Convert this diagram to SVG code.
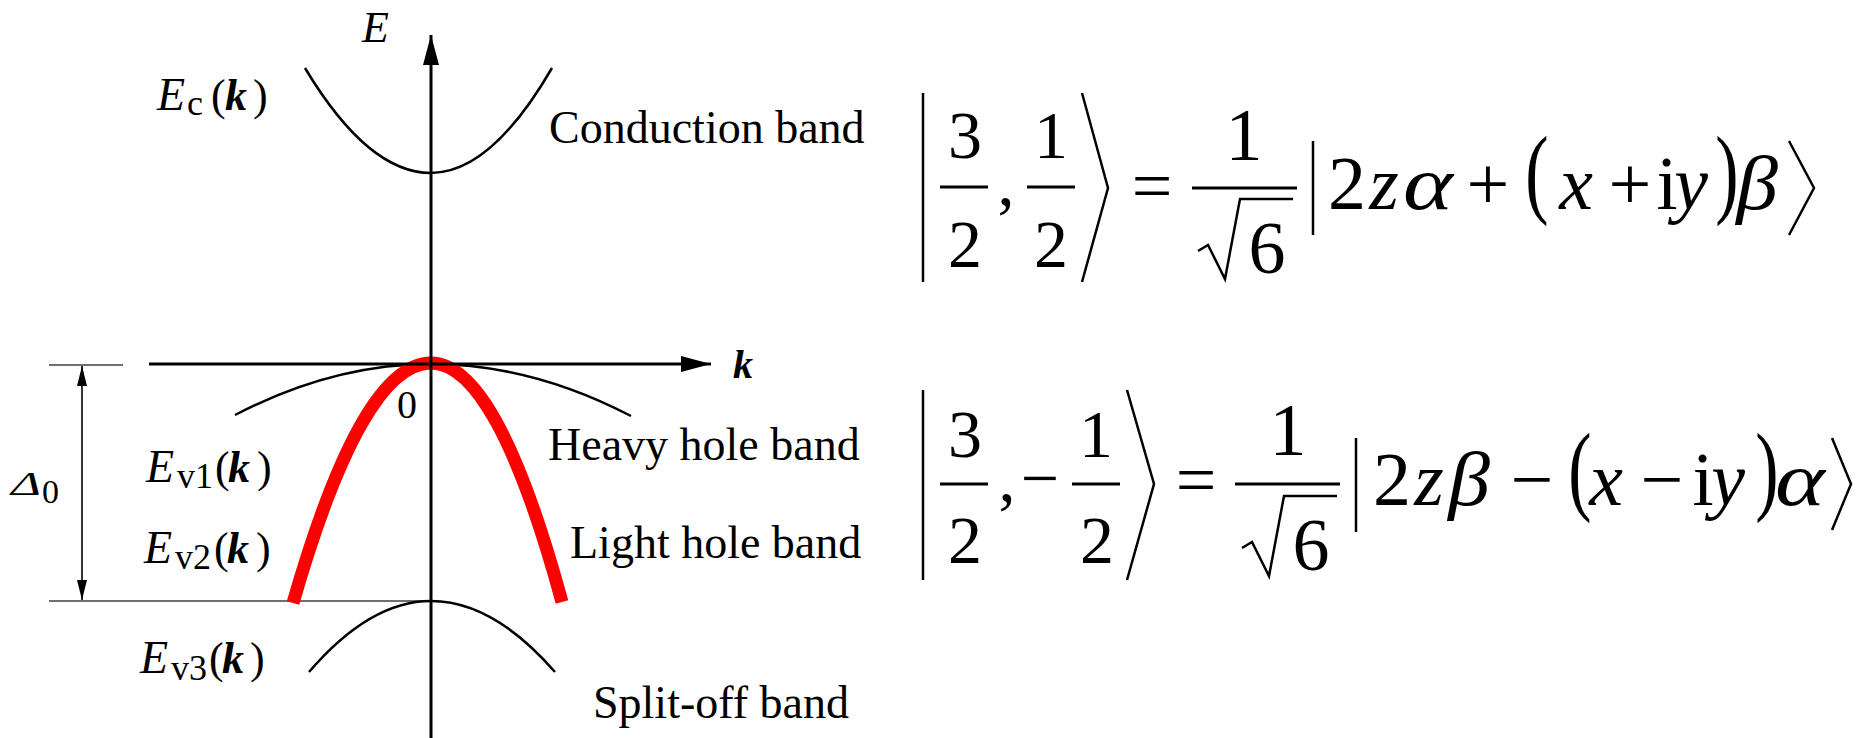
<svg xmlns="http://www.w3.org/2000/svg" width="1866" height="738" viewBox="0 0 1866 738">
<defs>
<style>
.s{font-family:"Liberation Serif","Times New Roman",serif;fill:#000}
.it{font-style:italic}
.bi{font-style:italic;font-weight:bold}
.lbl{font-size:46px}
.m{text-anchor:middle}
.band{fill:none;stroke:#000;stroke-width:2.5}
.red{fill:none;stroke:#f00;stroke-width:13;stroke-linecap:butt}
.axis{stroke:#000;stroke-width:3;fill:none}
.guide{stroke:#707070;stroke-width:2;fill:none}
.eq{font-size:76px}
.fr{font-size:68px}
.frb{font-size:74px}
.par{font-size:100px}
.bar{stroke:#000;stroke-width:3}
.brk{fill:none;stroke:#000;stroke-width:2.5}
</style>
<marker id="ah" markerUnits="userSpaceOnUse" markerWidth="30" markerHeight="16" viewBox="0 0 30 16" refX="30" refY="8" orient="auto">
<path d="M0,0 L30,8 L0,16 z" fill="#000"/>
</marker>
<marker id="dh" markerUnits="userSpaceOnUse" markerWidth="20" markerHeight="10" viewBox="0 0 20 10" refX="20" refY="5" orient="auto-start-reverse">
<path d="M0,0 L20,5 L0,10 z" fill="#000"/>
</marker>
</defs>
<rect width="1866" height="738" fill="#fff"/>

<g id="guides">
<line class="guide" x1="49" y1="365" x2="123" y2="365"/>
<line class="guide" x1="49" y1="601" x2="431" y2="601"/>
</g>

<g id="bands">
<path id="conduction-band" class="band" d="M305,68 Q368,173 431,173 Q491,173 552,68"/>
<path id="heavy-hole-band" class="band" d="M235,415 Q333,364 431,364 Q531,364 631,416"/>
<path id="split-off-band" class="band" d="M309,672 Q370,601 431,601 Q493,601 555,672"/>
<path id="light-hole-band" class="red" d="M293,603 Q362,363 431,363 Q497,363 562,602"/>
</g>

<g id="connectors">
<line class="axis" x1="149" y1="364" x2="711" y2="364" marker-end="url(#ah)"/>
<line class="axis" x1="431" y1="738" x2="431" y2="35" marker-end="url(#ah)"/>
<line stroke="#000" stroke-width="1.6" x1="82" y1="366" x2="82" y2="600" marker-start="url(#dh)" marker-end="url(#dh)"/>
</g>

<g id="axis-labels">
<text class="s it" x="362" y="42" font-size="44">E</text>
<text class="s bi" x="733" y="378" font-size="40">k</text>
<text class="s m" x="407" y="418" font-size="40">0</text>
<text class="s it" font-size="34" transform="translate(11,495) scale(1.5,1)">Δ</text>
<text class="s" x="42" y="503" font-size="34">0</text>
</g>

<g id="energy-labels">
<text class="s" font-size="44"><tspan class="it" x="157" y="110" font-size="46">E</tspan><tspan x="187" y="115" font-size="36">c</tspan><tspan x="211" y="110">(</tspan><tspan class="bi" x="225">k</tspan><tspan x="253">)</tspan></text>
<text class="s" font-size="44"><tspan class="it" x="146" y="482" font-size="46">E</tspan><tspan x="177" y="488" font-size="36">v1</tspan><tspan x="215" y="482">(</tspan><tspan class="bi" x="228">k</tspan><tspan x="257">)</tspan></text>
<text class="s" font-size="44"><tspan class="it" x="144" y="563" font-size="46">E</tspan><tspan x="175" y="569" font-size="36">v2</tspan><tspan x="214" y="563">(</tspan><tspan class="bi" x="227">k</tspan><tspan x="256">)</tspan></text>
<text class="s" font-size="44"><tspan class="it" x="140" y="673" font-size="46">E</tspan><tspan x="171" y="680" font-size="36">v3</tspan><tspan x="209" y="673">(</tspan><tspan class="bi" x="222">k</tspan><tspan x="250">)</tspan></text>
</g>

<g id="band-names">
<text class="s lbl" x="549" y="143">Conduction band</text>
<text class="s lbl" x="548" y="460">Heavy hole band</text>
<text class="s lbl" x="570" y="558">Light hole band</text>
<text class="s lbl" x="593" y="718">Split-off band</text>
</g>

<g id="equation-1">
<line class="brk" x1="923" y1="93" x2="923" y2="282"/>
<text class="s m fr" x="965" y="158">3</text>
<line class="bar" x1="940" y1="187" x2="988" y2="187"/>
<text class="s m fr" x="965" y="267">2</text>
<text class="s m fr" x="1006" y="205">,</text>
<text class="s m fr" x="1051" y="158">1</text>
<line class="bar" x1="1027" y1="187" x2="1075" y2="187"/>
<text class="s m fr" x="1051" y="267">2</text>
<polyline class="brk" points="1082,93 1108,188 1082,282"/>
<text class="s m" font-size="72" x="1152" y="210">=</text>
<text class="s m frb" x="1244" y="160">1</text>
<line class="bar" x1="1192" y1="188" x2="1297" y2="188"/>
<polyline class="brk" points="1198,251 1208,245 1225,279 1240,199 1293,199"/>
<text class="s m frb" x="1267" y="273">6</text>
<line class="brk" x1="1313" y1="141" x2="1313" y2="235"/>
<text class="s m eq" x="1347" y="209">2</text>
<text class="s m eq it" x="1384" y="209">z</text>
<text class="s m eq it" transform="translate(1428,209) scale(1.25,1)">α</text>
<text class="s m eq" x="1488" y="209">+</text>
<text class="s m par" transform="translate(1537,205) scale(0.7,1)">(</text>
<text class="s m eq it" x="1576" y="209">x</text>
<text class="s m eq" x="1630" y="209">+</text>
<text class="s m eq" x="1667" y="209">i</text>
<text class="s m eq it" x="1691" y="209">y</text>
<text class="s m par" transform="translate(1727,205) scale(0.7,1)">)</text>
<text class="s m eq it" transform="translate(1757,209) scale(1.1,1)">β</text>
<polyline class="brk" points="1789,141 1814,188 1789,235"/>
</g>

<g id="equation-2">
<line class="brk" x1="923" y1="390" x2="923" y2="580"/>
<text class="s m fr" x="965" y="457">3</text>
<line class="bar" x1="940" y1="484" x2="988" y2="484"/>
<text class="s m fr" x="965" y="563">2</text>
<text class="s m fr" x="1007" y="501">,</text>
<text class="s m fr" x="1040" y="501">−</text>
<text class="s m fr" x="1096" y="457">1</text>
<line class="bar" x1="1072" y1="484" x2="1120" y2="484"/>
<text class="s m fr" x="1097" y="563">2</text>
<polyline class="brk" points="1127,390 1154,484 1127,580"/>
<text class="s m" font-size="72" x="1196" y="504">=</text>
<text class="s m frb" x="1288" y="455">1</text>
<line class="bar" x1="1235" y1="484" x2="1340" y2="484"/>
<polyline class="brk" points="1242,548 1252,542 1269,576 1284,496 1337,496"/>
<text class="s m frb" x="1311" y="570">6</text>
<line class="brk" x1="1356" y1="438" x2="1356" y2="532"/>
<text class="s m eq" x="1392" y="505">2</text>
<text class="s m eq it" x="1429" y="505">z</text>
<text class="s m eq it" transform="translate(1469,505) scale(1.1,1)">β</text>
<text class="s m eq" x="1532" y="505">−</text>
<text class="s m par" transform="translate(1580,502) scale(0.7,1)">(</text>
<text class="s m eq it" x="1606" y="505">x</text>
<text class="s m eq" x="1662" y="505">−</text>
<text class="s m eq" x="1703" y="505">i</text>
<text class="s m eq it" x="1728" y="505">y</text>
<text class="s m par" transform="translate(1767,502) scale(0.7,1)">)</text>
<text class="s m eq it" transform="translate(1800,505) scale(1.25,1)">α</text>
<polyline class="brk" points="1832,438 1851,484 1832,530"/>
</g>
</svg>
